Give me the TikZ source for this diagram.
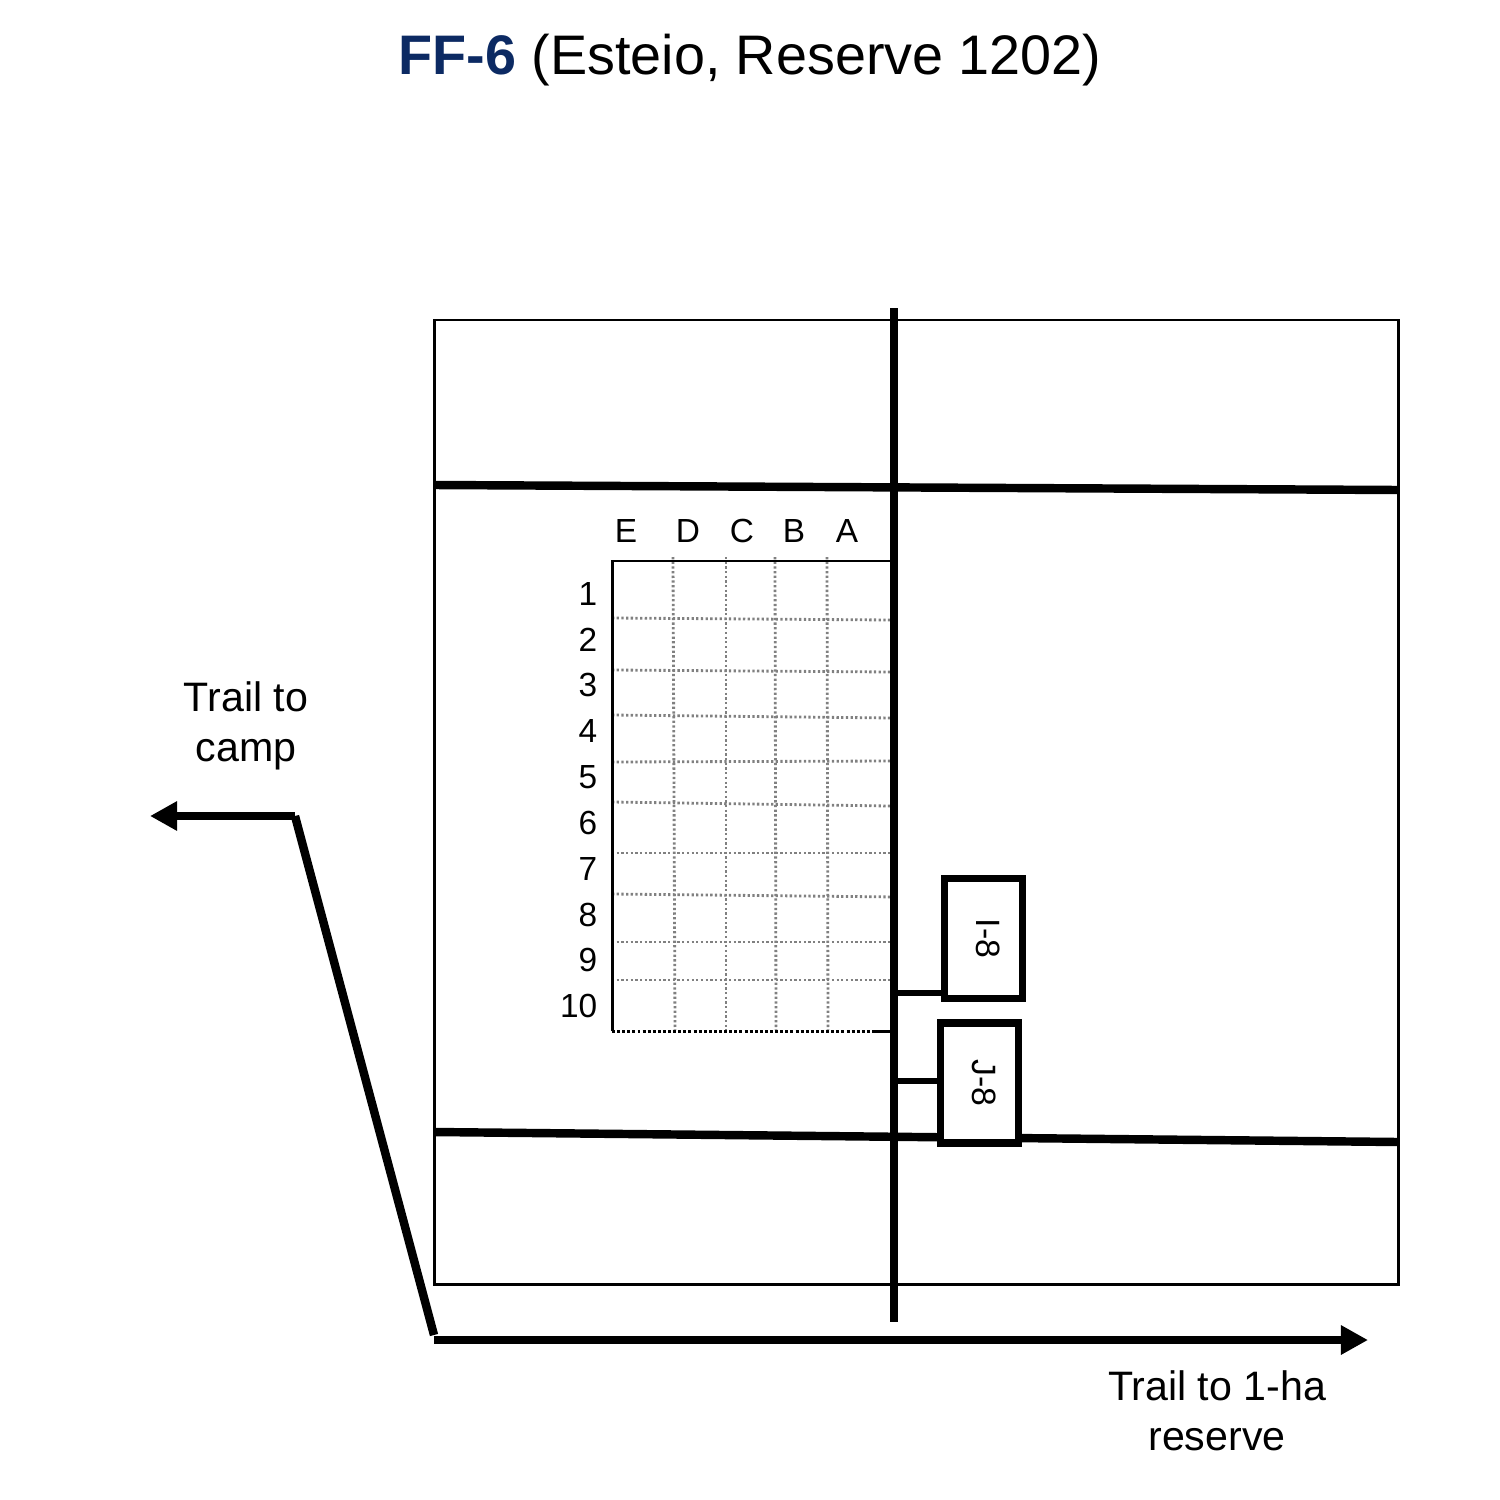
\documentclass[tikz,border=0pt]{standalone}
\usepackage{fontspec}
\setmainfont{Liberation Sans}
\usetikzlibrary{arrows.meta}
\definecolor{titleblue}{HTML}{0C2A63}
\newcommand{\boxtext}[1]{\raisebox{-2.1pt}[0pt][0pt]{#1}}
\tikzset{
	plotline/.style={black,line width=.85pt},
	trail/.style={black,line width=2.4pt},
	subline/.style={black,line width=2.1pt},
	griddot/.style={black!50,line width=.8pt,dash pattern=on .65pt off .68pt},
	trailtip/.style={-{Triangle[length=7.7pt,width=7.9pt]}},
	label/.style={font=\fontsize{9.5}{11}\selectfont,inner sep=0pt},
	trailtext/.style={font=\fontsize{11.7}{14.2}\selectfont,align=center,inner sep=0pt},
	subbox/.style={draw,subline,fill=white,rotate=-90,inner sep=0pt,minimum width=1.2cm,minimum height=.78cm,font=\fontsize{9.6}{11}\selectfont}
}
\begin{document}
\begin{tikzpicture}[x=.01cm,y=-.01cm]
	\useasboundingbox (0,0) rectangle (1500,1500);
	% Title
	\node[inner sep=0pt,font=\fontsize{15.85}{19}\selectfont] (title) at (750,60) {\textcolor{titleblue}{\textbf{FF-6}} (Esteio, Reserve 1202)};

	% Plot
	\draw[plotline] (434,320) rectangle (1398,1284);

	% Subplot grid
	\foreach \xa/\xb in {673/675,726/726,775/776,827/828}{
		\draw[griddot] (\xa,557) -- (\xb,1030);
	}
	\foreach \ya/\yb/\xr in {618/620/890,670/672/890,715/718/893,762/761/890,802/806/890,853/853/890,894/897/897,942/942/892,980/980/892}{
		\draw[griddot] (612,\ya) -- (\xr,\yb);
	}
	\draw[plotline] (612,1031) -- (612,561) -- (890,561);
	\draw[black,line width=.85pt,dash pattern=on .85pt off .6pt] (612,1031) -- (875,1031);
	\draw[plotline] (875,1031) -- (890,1031);

	% Column and row labels
	\foreach \c/\x in {E/626,D/688,C/742,B/794,A/847}{
		\node[label] (col\c) at (\x,531) {\c};
	}
	\foreach \r/\y in {1/594,2/640,3/685,4/731,5/777,6/823,7/869,8/915,9/960,10/1006}{
		\node[label,anchor=east] (row\r) at (598,\y) {\r};
	}

	% Transects
	\draw[trail] (434,485) -- (1398,490);
	\draw[trail] (434,1132) -- (1398,1142);
	\draw[black,line width=2.5pt] (894,308) -- (894,1322);

	% Subplots
	\node[subbox] (I8) at (983.5,938.5) {\boxtext{I-8}};
	\node[subbox] (J8) at (979.5,1083) {\boxtext{J-8}};
	\coordinate (tapI) at (894,993);
	\coordinate (tapJ) at (894,1081);
	\draw[black,line width=1.8pt] (tapI) -- (tapI -| I8.south);
	\draw[black,line width=1.8pt] (tapJ) -- (tapJ -| J8.south);

	% Trails
	\coordinate (bend) at (295,816);
	\coordinate (campend) at (150,816);
	\coordinate (low) at (434,1335);
	\coordinate (start) at (434,1340);
	\coordinate (resend) at (1368,1340);
	\draw[trail,trailtip] (bend) -- (campend);
	\draw[trail] (bend) -- (low);
	\draw[trail,trailtip] (start) -- (resend);
	\node[trailtext] (camp) at (246,725.5) {Trail to\\camp};
	\node[trailtext] (reserve) at (1217,1411) {Trail to 1-ha\\reserve};
\end{tikzpicture}
\end{document}
